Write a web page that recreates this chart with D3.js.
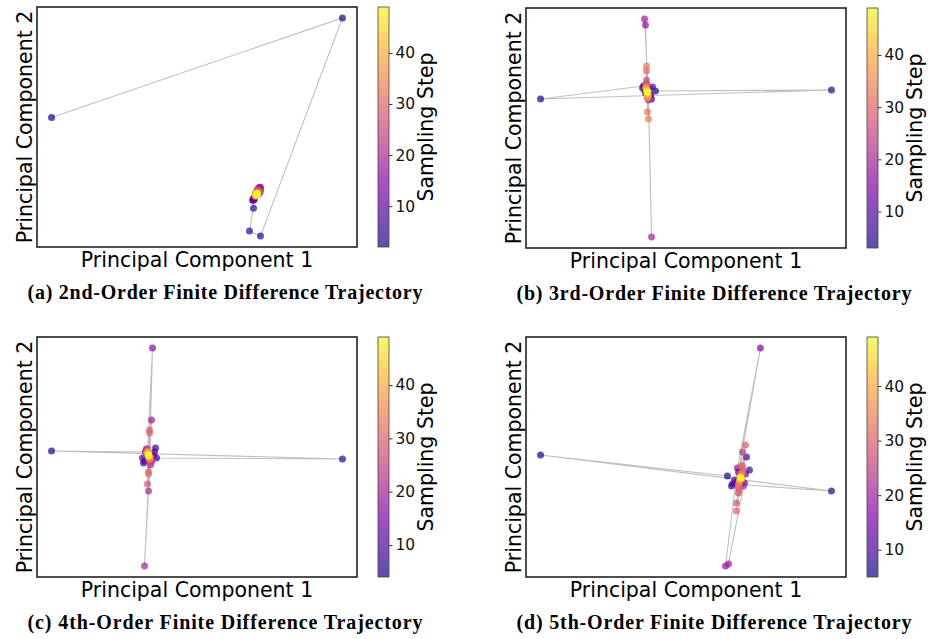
<!DOCTYPE html>
<html>
<head>
<meta charset="utf-8">
<script src="https://cdn.jsdelivr.net/npm/d3@7"></script>
<style>
body {margin:0; background:#fff;}
</style>
</head>
<body>
<div id="chart-area"></div>
<script>
// subplot titles and first sampling step of each trajectory
const titles = ["(a) 2nd-Order Finite Difference Trajectory",
                "(b) 3rd-Order Finite Difference Trajectory",
                "(c) 4th-Order Finite Difference Trajectory",
                "(d) 5th-Order Finite Difference Trajectory"];
const firstStep = [2, 3, 4, 5];
const lastStep = 49;
const cbarTicks = [10, 20, 30, 40];

// PCA coordinates, one entry per sampling step
const pc1_2nd = [-20.5, 8.6, 0.4, -0.7, -0.3, -0.3, -0.2, -0.4,
                 -0.2, -0.3, -0.1, 0.1, 0.2, 0.3, 0.4, 0.3,
                 0.4, 0.2, 0.3, 0.1, 0.4, 0.2, 0.3, 0.3,
                 0.1, 0.2, 0.0, 0.2, 0.1, -0.1, 0.1, 0.0,
                 -0.1, 0.1, 0.0, -0.1, 0.0, -0.1, 0.1, 0.0,
                 -0.1, 0.0, 0.1, 0.0, 0.0, 0.1, 0.0, 0.0];
const pc2_2nd = [7.7, 17.7, -4.2, -3.7, -1.4, -0.6, -0.5, -0.6,
                 -0.3, -0.4, -0.1, 0.3, 0.5, 0.6, 0.7, 0.7,
                 0.5, 0.6, 0.4, 0.5, 0.3, 0.2, 0.1, 0.3,
                 0.4, 0.1, 0.3, 0.3, 0.2, 0.1, 0.0, 0.2,
                 -0.1, 0.1, -0.1, 0.0, 0.1, -0.2, 0.1, 0.0,
                 -0.1, 0.1, 0.0, -0.1, 0.0, 0.1, 0.0, 0.0];

const pc1_3rd = [-0.4, -10.7, 18.4, 0.8, 0.4, 0.5, -0.5, 0.3,
                 -0.3, 0.2, -0.2, 0.1, -0.1, 0.0, -0.2, -0.3,
                 0.1, 0.4, 0.1, -0.1, 0.1, -0.2, 0.1, -0.1,
                 0.0, -0.1, 0.0, -0.1, -0.1, 0.0, -0.1, 0.1,
                 -0.1, 0.0, -0.2, 0.1, -0.1, 0.0, -0.1, 0.0,
                 -0.1, 0.0, 0.0, 0.0, 0.0, 0.0, 0.0];
const pc2_3rd = [0.6, -0.7, 0.2, 0.1, -0.7, 0.5, 0.4, -0.3,
                 0.2, -0.4, -0.1, 0.3, 0.8, 0.5, 6.7, 7.3,
                 -0.5, -14.5, -0.8, 0.6, -0.3, 0.4, -0.4, 1.2,
                 -0.6, 0.7, -0.5, 0.5, 2.1, -2.0, 2.6, -2.7,
                 0.6, -0.6, 0.4, -0.4, 0.3, -0.3, 0.2, -0.2,
                 0.1, -0.1, 0.1, 0.0, 0.0, 0.0, 0.0];

const pc1_4th = [-0.3, -9.7, 19.4, 0.8, 0.7, -0.5, -0.6, 0.6,
                 -0.4, 0.5, -0.2, 0.3, -0.1, 0.4, 0.1, 0.3,
                 -0.4, 0.0, 0.2, -0.2, 0.3, -0.3, 0.2, -0.1,
                 -0.1, 0.1, 0.0, 0.1, 0.0, -0.1, 0.1, -0.2,
                 0.2, -0.1, 0.1, 0.0, 0.0, -0.1, 0.1, 0.0,
                 0.0, 0.0, 0.0, 0.0, 0.0, 0.0];
const pc2_4th = [0.3, 0.4, -0.4, -0.3, 0.7, -0.8, -0.3, 0.3,
                 -0.6, -0.1, 0.6, -0.5, 0.4, 10.7, -0.2, 3.5,
                 -11.1, -3.6, -1.0, 0.5, -0.7, 0.3, -0.4, 0.6,
                 -2.9, 2.5, -1.7, 2.2, -1.9, 0.4, -0.5, 0.2,
                 -0.3, 0.3, -0.2, 0.3, -0.2, 0.1, -0.1, 0.1,
                 -0.1, 0.0, 0.0, 0.0, 0.0, 0.0];

const pc1_5th = [-1.3, -20.0, 9.1, -0.8, 0.9, -0.9, 0.6, -0.4,
                 0.5, -0.6, 0.4, -0.2, 2.0, -0.3, -1.5, -1.2,
                 0.3, 0.2, -0.1, 0.2, -0.2, 0.1, -0.2, 0.2,
                 -0.4, 0.5, -0.4, 0.1, -0.1, 0.2, -0.2, 0.1,
                 -0.1, 0.1, -0.1, 0.0, 0.1, 0.0, 0.0, 0.0,
                 0.0, 0.0, 0.0, 0.0, 0.0];
const pc2_5th = [0.2, 2.3, -1.3, -0.6, 0.8, -0.8, 2.1, -0.4,
                 0.4, -0.2, -0.5, 0.6, 13.0, 1.0, -8.8, -8.6,
                 -0.8, 0.8, -0.3, 2.6, -1.0, 0.2, -1.5, 1.2,
                 -2.5, 3.3, -3.3, 1.2, -1.2, 0.6, -0.6, 0.4,
                 -0.4, 0.2, -0.2, 0.1, -0.1, 0.1, 0.0, 0.0,
                 0.0, 0.0, 0.0, 0.0, 0.0];

const pc1 = [pc1_2nd, pc1_3rd, pc1_4th, pc1_5th];
const pc2 = [pc2_2nd, pc2_3rd, pc2_4th, pc2_5th];

const width = 928, height = 639;
const origins = [[0,0],[489,1],[0,330],[489,330]];
const box = {left:37, top:7, w:320, h:240};
const cbar = {left:378, w:11};
const alpha = 0.7;

var svg = d3.select("#chart-area").append("svg")
    .attr("width", width)
    .attr("height", height);

var defs = svg.append("defs");

var pad = function(ext) {
    var m = (ext[1]-ext[0])*0.05;
    return [ext[0]-m, ext[1]+m];
};

var makePanel = function(i) {
    var ox = origins[i][0], oy = origins[i][1];
    var data = pc1[i].map((d,j) => ({step: firstStep[i]+j, x: d, y: pc2[i][j]}));

    var color = d3.scaleSequential(d3.interpolatePlasma)
        .domain([firstStep[i], lastStep]);

    var x = d3.scaleLinear()
        .domain(pad(d3.extent(data, d => d.x)))
        .range([ox+box.left, ox+box.left+box.w]);
    var y = d3.scaleLinear()
        .domain(pad(d3.extent(data, d => d.y)))
        .range([oy+box.top+box.h, oy+box.top]);

    var g = svg.append("g");

    // trajectory line
    g.append("path")
        .datum(data)
        .attr("fill", "none")
        .attr("stroke", "gray")
        .attr("stroke-opacity", 0.5)
        .attr("stroke-width", 1.1)
        .attr("d", d3.line().x(d => x(d.x)).y(d => y(d.y)));

    g.selectAll("circle")
        .data(data)
        .enter().append("circle")
        .attr("cx", d => x(d.x))
        .attr("cy", d => y(d.y))
        .attr("r", 3.5)
        .attr("fill", d => color(d.step))
        .attr("fill-opacity", alpha);

    g.append("rect")
        .attr("x", ox+box.left).attr("y", oy+box.top)
        .attr("width", box.w).attr("height", box.h)
        .attr("fill", "none")
        .attr("stroke", "#222")
        .attr("stroke-width", 1.6);

    g.append("text")
        .attr("x", ox+box.left+box.w/2)
        .attr("y", oy+267)
        .attr("text-anchor", "middle")
        .style("font-family", "DejaVu Sans")
        .style("font-size", "20.5px")
        .text("Principal Component 1");

    g.append("text")
        .attr("transform", `translate(${ox+32},${oy+box.top+box.h/2}) rotate(-90)`)
        .attr("text-anchor", "middle")
        .style("font-family", "DejaVu Sans")
        .style("font-size", "20.5px")
        .text("Principal Component 2");

    // colorbar
    var gradId = "grad" + i;
    var grad = defs.append("linearGradient")
        .attr("id", gradId)
        .attr("x1", 0).attr("y1", 1).attr("x2", 0).attr("y2", 0);
    d3.range(0, 1.0001, 0.05).forEach(function(t) {
        grad.append("stop")
            .attr("offset", t)
            .attr("stop-color", d3.interpolatePlasma(t))
            .attr("stop-opacity", alpha);
    });

    var cy = d3.scaleLinear()
        .domain([firstStep[i], lastStep])
        .range([oy+box.top+box.h, oy+box.top]);

    g.append("rect")
        .attr("x", ox+cbar.left).attr("y", oy+box.top)
        .attr("width", cbar.w).attr("height", box.h)
        .attr("fill", `url(#${gradId})`)
        .attr("stroke", "#444")
        .attr("stroke-width", 0.8);

    var axis = d3.axisRight(cy)
        .tickValues(cbarTicks)
        .tickSize(3.5)
        .tickPadding(3);

    var ag = g.append("g")
        .attr("transform", `translate(${ox+cbar.left+cbar.w},0)`)
        .call(axis);
    ag.select(".domain").remove();
    ag.selectAll("line").attr("stroke", "#222").attr("stroke-width", 0.9);
    ag.selectAll("text")
        .attr("fill", "#111")
        .style("font-family", "DejaVu Sans")
        .style("font-size", "15.5px");

    g.append("text")
        .attr("transform", `translate(${ox+433},${oy+box.top+box.h/2}) rotate(-90)`)
        .attr("text-anchor", "middle")
        .style("font-family", "DejaVu Sans")
        .style("font-size", "20.5px")
        .text("Sampling Step");

    // subplot caption, stretched to the caption width of the figure
    g.append("text")
        .attr("x", ox+225)
        .attr("y", oy+299)
        .attr("text-anchor", "middle")
        .attr("textLength", 395)
        .attr("lengthAdjust", "spacing")
        .style("font-family", "Liberation Serif")
        .style("font-weight", "bold")
        .style("font-size", "20px")
        .text(titles[i]);
};

for (var i = 0; i < 4; i++) makePanel(i);
</script>
</body>
</html>
